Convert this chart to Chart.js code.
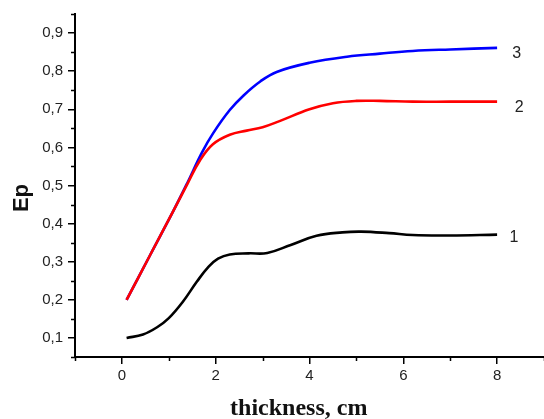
<!DOCTYPE html>
<html>
<head>
<meta charset="utf-8">
<script src="https://cdn.jsdelivr.net/npm/chart.js@4/dist/chart.umd.min.js"></script>
<style>
html,body{margin:0;padding:0;background:#fff;}
#wrap{width:544px;height:419px;position:relative;}
</style>
</head>
<body>
<div id="wrap"><canvas id="c" width="544" height="419"></canvas></div>
<script>
// ---- data ----
const curve1X = [0.1, 0.45, 0.75, 1.0, 1.3, 1.6, 1.85, 2.05, 2.3, 2.7, 3.1, 3.6, 4.15, 4.7, 5.1, 5.7, 6.2, 7.0, 8.0];
const curve1Y = [0.1, 0.109, 0.128, 0.152, 0.195, 0.248, 0.287, 0.308, 0.319, 0.322, 0.323, 0.344, 0.368, 0.377, 0.379, 0.375, 0.37, 0.369, 0.371];

const curve2X = [0.1, 0.6, 1.1, 1.4, 1.66, 1.94, 2.3, 2.66, 3.0, 3.36, 4.0, 4.5, 5.0, 5.5, 6.2, 7.0, 8.0];
const curve2Y = [0.2, 0.317, 0.434, 0.505, 0.565, 0.608, 0.633, 0.644, 0.653, 0.669, 0.70, 0.716, 0.722, 0.722, 0.72, 0.72, 0.72];

const curve3X = [0.1, 0.6, 1.1, 1.4, 1.7, 1.95, 2.3, 2.6, 2.95, 3.3, 4.0, 4.8, 5.5, 6.2, 7.0, 8.0];
const curve3Y = [0.2, 0.317, 0.434, 0.508, 0.585, 0.638, 0.698, 0.737, 0.773, 0.798, 0.822, 0.838, 0.846, 0.853, 0.857, 0.861];

const curveNames = ['1', '2', '3'];
const xMajorTicks = [0, 2, 4, 6, 8];
const xMinorTicks = [-1, 1, 3, 5, 7, 9];
const yMajorTicks = [0.1, 0.2, 0.3, 0.4, 0.5, 0.6, 0.7, 0.8, 0.9];
const yMinorTicks = [0.05, 0.15, 0.25, 0.35, 0.45, 0.55, 0.65, 0.75, 0.85, 0.95];
const xTitle = 'thickness, cm';
const yTitle = 'Ep';

const toPts = (xs, ys) => xs.map((x, i) => ({x: x, y: ys[i]}));

const minorTicksPlugin = {
  id: 'minorTicks',
  afterDraw(chart) {
    const ctx = chart.ctx, xs = chart.scales.x, ys = chart.scales.y;
    const a = chart.chartArea;
    ctx.save();
    ctx.strokeStyle = '#000';
    ctx.lineWidth = 1.5;
    ctx.beginPath();
    xMinorTicks.forEach(v => {
      const px = Math.round(xs.getPixelForValue(v)) + 0.5;
      ctx.moveTo(px, a.bottom); ctx.lineTo(px, a.bottom + 4);
    });
    yMinorTicks.forEach(v => {
      const py = Math.round(ys.getPixelForValue(v)) + 0.5;
      ctx.moveTo(a.left, py); ctx.lineTo(a.left - 4, py);
    });
    ctx.stroke();

    // curve labels
    ctx.fillStyle = '#222';
    ctx.font = '16px "Liberation Sans", Arial, sans-serif';
    ctx.textAlign = 'center';
    ctx.textBaseline = 'middle';
    const lab = [[8.36, 0.362], [8.47, 0.704], [8.42, 0.845]];
    lab.forEach((p, i) => {
      ctx.fillText(curveNames[i], xs.getPixelForValue(p[0]), ys.getPixelForValue(p[1]));
    });

    // axis titles
    ctx.fillStyle = '#111';
    ctx.font = 'bold 24px "Liberation Serif", "Times New Roman", serif';
    ctx.textAlign = 'center';
    ctx.textBaseline = 'alphabetic';
    ctx.fillText(xTitle, xs.getPixelForValue(3.77), 415);

    ctx.save();
    ctx.translate(28, 198);
    ctx.rotate(-Math.PI / 2);
    ctx.font = 'bold 22px "Liberation Sans", Arial, sans-serif';
    ctx.fillText(yTitle, 0, 0);
    ctx.restore();
    ctx.restore();
  }
};

const lineDs = (label, xs, ys, color) => ({
  label: label,
  data: toPts(xs, ys),
  borderColor: color,
  backgroundColor: color,
  borderWidth: 2.6,
  pointRadius: 0,
  fill: false,
  tension: 0.4
});

new Chart(document.getElementById('c'), {
  type: 'line',
  data: {
    datasets: [
      lineDs(curveNames[0], curve1X, curve1Y, '#000000'),
      lineDs(curveNames[1], curve2X, curve2Y, '#ff0000'),
      lineDs(curveNames[2], curve3X, curve3Y, '#0000ff')
    ]
  },
  options: {
    responsive: false,
    animation: false,
    layout: {padding: {top: 10, right: 0, left: 0, bottom: 0}},
    plugins: {legend: {display: false}, tooltip: {enabled: false}},
    scales: {
      x: {
        type: 'linear',
        min: -1, max: 9,
        afterBuildTicks: s => { s.ticks = xMajorTicks.map(v => ({value: v})); },
        afterFit: s => { s.height = 62; },
        ticks: {
          color: '#222',
          font: {family: '"Liberation Sans", Arial, sans-serif', size: 15},
          padding: 3,
          maxRotation: 0,
          callback: v => String(v)
        },
        grid: {drawOnChartArea: false, drawTicks: true, tickLength: 7, color: '#000', lineWidth: 1.5},
        border: {display: true, color: '#000', width: 2}
      },
      y: {
        type: 'linear',
        min: 0.05, max: 0.95,
        afterBuildTicks: s => { s.ticks = yMajorTicks.map(v => ({value: v})); },
        afterFit: s => { s.width = 75; },
        ticks: {
          color: '#222',
          font: {family: '"Liberation Sans", Arial, sans-serif', size: 15},
          padding: 5,
          callback: v => Number(v).toFixed(1).replace('.', ',')
        },
        grid: {drawOnChartArea: false, drawTicks: true, tickLength: 7, color: '#000', lineWidth: 1.5},
        border: {display: true, color: '#000', width: 2}
      }
    }
  },
  plugins: [minorTicksPlugin]
});
</script>
</body>
</html>
